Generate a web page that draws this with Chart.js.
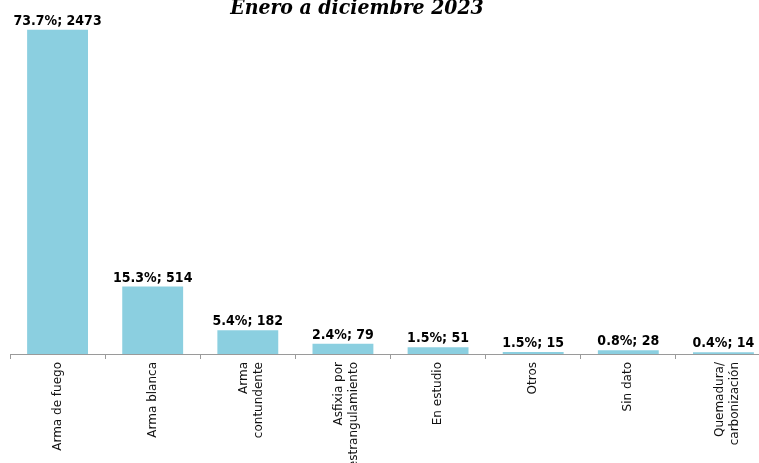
<!DOCTYPE html>
<html>
<head>
<meta charset="utf-8">
<script src="https://cdn.jsdelivr.net/npm/chart.js@4"></script>
<style>
  html, body { margin: 0; padding: 0; background: #fff; overflow: hidden; }
  #wrap { width: 771px; height: 463px; position: relative; }
</style>
</head>
<body>
<div id="wrap"><canvas id="chart"></canvas></div>
<script>
const categories = [
  'Arma de fuego',
  'Arma blanca',
  ['Arma', 'contundente'],
  ['Asfixia por', 'estrangulamiento'],
  'En estudio',
  'Otros',
  'Sin dato',
  ['Quemadura/', 'carbonización']
];
const counts = [2473, 514, 182, 79, 51, 15, 28, 14];
const percents = ['73.7', '15.3', '5.4', '2.4', '1.5', '1.5', '0.8', '0.4'];
const titleText = 'Enero a diciembre 2023';

const tickFontSize = 12;
const tickLineHeight = 1.25;

// etiquetas sobre cada barra
const barLabels = {
  id: 'barLabels',
  afterDatasetsDraw(chart) {
    const ctx = chart.ctx;
    const meta = chart.getDatasetMeta(0);
    ctx.save();
    ctx.font = 'bold 14px "DejaVu Sans Condensed", "DejaVu Sans", sans-serif';
    ctx.fillStyle = '#000';
    ctx.textAlign = 'center';
    ctx.textBaseline = 'alphabetic';
    meta.data.forEach((bar, i) => {
      ctx.fillText(percents[i] + '%; ' + counts[i], bar.x, bar.y - 5);
    });
    ctx.restore();
  }
};

// acercar las etiquetas de dos lineas al centro de su categoria
const centerMultiline = {
  id: 'centerMultiline',
  beforeDraw(chart) {
    const items = chart.scales.x.getLabelItems();
    if (items._centered) return;
    const lh = tickFontSize * tickLineHeight;
    items.forEach(it => {
      if (Array.isArray(it.label)) {
        it.options.translation[0] -= (it.label.length - 1) * lh / 4;
      }
    });
    items._centered = true;
  }
};

// titulo (cortado arriba como en la imagen)
const topTitle = {
  id: 'topTitle',
  afterDraw(chart) {
    const ctx = chart.ctx;
    ctx.save();
    ctx.font = 'italic bold 21px "DejaVu Serif Condensed", "DejaVu Serif", serif';
    ctx.fillStyle = '#000';
    ctx.textAlign = 'center';
    ctx.textBaseline = 'alphabetic';
    ctx.fillText(titleText, 357, 14);
    ctx.restore();
  }
};

new Chart(document.getElementById('chart').getContext('2d'), {
  type: 'bar',
  data: {
    labels: categories,
    datasets: [{
      data: counts,
      backgroundColor: '#8bcfe0',
      borderWidth: 0,
      barPercentage: 0.8,
      categoryPercentage: 0.8
    }]
  },
  options: {
    responsive: true,
    maintainAspectRatio: false,
    animation: false,
    layout: { padding: { left: 10, right: 0, top: 0, bottom: 0 } },
    plugins: {
      legend: { display: false },
      tooltip: { enabled: false },
      title: { display: false }
    },
    scales: {
      x: {
        afterFit: (scale) => { scale.height = 109; },
        grid: {
          display: true,
          offset: true,
          drawOnChartArea: false,
          drawTicks: true,
          tickLength: 5,
          color: '#9a9a9a'
        },
        border: { display: true, color: '#9a9a9a', width: 1 },
        ticks: {
          minRotation: 90,
          maxRotation: 90,
          autoSkip: false,
          padding: 3,
          color: '#111',
          font: { family: '"DejaVu Sans", sans-serif', size: tickFontSize, lineHeight: tickLineHeight }
        }
      },
      y: {
        display: false,
        min: 0,
        max: 2700
      }
    }
  },
  plugins: [barLabels, centerMultiline, topTitle]
});
</script>
</body>
</html>
